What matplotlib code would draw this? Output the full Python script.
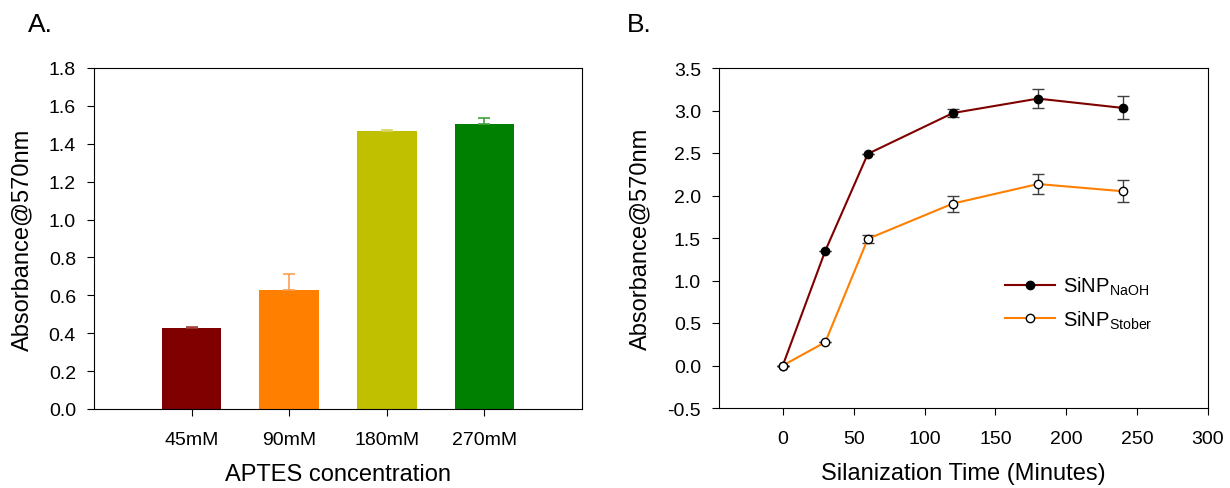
import matplotlib.pyplot as plt
from matplotlib.lines import Line2D
import numpy as np

plt.rcParams['font.family'] = ['Liberation Sans', 'DejaVu Sans']

# panel A data
conc = ['45mM', '90mM', '180mM', '270mM']
absorb = [0.43, 0.63, 1.47, 1.505]
absorb_err = [0.003, 0.08, 0.005, 0.03]
bar_colors = ['#800000', '#ff8000', '#c0c000', '#008000']
err_colors = ['#a04040', '#ffa050', '#d8d860', '#40a040']

# panel B data
time_min = [0, 30, 60, 120, 180, 240]
naoh = [0.0, 1.35, 2.49, 2.97, 3.14, 3.03]
naoh_err = [0.0, 0.0, 0.0, 0.05, 0.11, 0.135]
stober = [0.0, 0.275, 1.49, 1.905, 2.135, 2.05]
stober_err = [0.0, 0.0, 0.05, 0.095, 0.12, 0.13]

tick_fs = 14
label_fs = 17
W, H = 1230, 489

fig = plt.figure(figsize=(12.3, 4.89), dpi=100)

# ---- A ----
ax1 = fig.add_axes([94/W, 1-410/H, (582-94)/W, (410-69)/H])
x = np.arange(len(conc))
ax1.bar(x, absorb, width=0.61, color=bar_colors, zorder=2)
for i in range(len(conc)):
    ax1.errorbar(x[i], absorb[i], yerr=[[0], [absorb_err[i]]], fmt='none',
                 ecolor=err_colors[i], capsize=4, elinewidth=1.2, capthick=1.2, zorder=3)
ax1.set_xlim(-1, 4)
ax1.set_ylim(0, 1.8)
ax1.set_yticks(np.arange(0, 1.81, 0.2))
ax1.set_yticklabels(['%.1f' % v for v in np.arange(0, 1.81, 0.2)])
ax1.set_xticks(x)
ax1.set_xticklabels(conc)
ax1.set_xlabel('APTES concentration', fontsize=label_fs, va='center')
ax1.set_ylabel('Absorbance@570nm', fontsize=label_fs, va='center')
ax1.xaxis.set_label_coords(0.5, (410-475)/341)
ax1.yaxis.set_label_coords((22-94)/488, 0.5)
ax1.tick_params(labelsize=tick_fs, direction='out', length=5)
ax1.tick_params(axis='x', pad=11)
ax1.tick_params(axis='y', pad=8)
fig.text(40/W, 1-25/H, 'A.', fontsize=19, va='center', ha='center')

# ---- B ----
ax2 = fig.add_axes([719/W, 1-409/H, (1208-719)/W, (409-69)/H])
ax2.errorbar(time_min, naoh, yerr=naoh_err, color='#800000', ecolor='#404040',
             marker='o', markersize=6, markerfacecolor='black', markeredgecolor='black',
             capsize=4, elinewidth=1, capthick=1, lw=1.5)
ax2.errorbar(time_min, stober, yerr=stober_err, color='#ff8000', ecolor='#404040',
             marker='o', markersize=6, markerfacecolor='white', markeredgecolor='black',
             capsize=4, elinewidth=1, capthick=1, lw=1.5)
ax2.set_xlim(-45, 300)
ax2.set_ylim(-0.5, 3.5)
ax2.set_xticks([0, 50, 100, 150, 200, 250, 300])
ax2.set_yticks(np.arange(-0.5, 3.51, 0.5))
ax2.set_yticklabels(['%.1f' % v for v in np.arange(-0.5, 3.51, 0.5)])
ax2.set_xlabel('Silanization Time (Minutes)', fontsize=label_fs, va='center')
ax2.set_ylabel('Absorbance@570nm', fontsize=label_fs, va='center')
ax2.xaxis.set_label_coords(0.5, (409-474)/340)
ax2.yaxis.set_label_coords((640-719)/489, 0.5)
ax2.tick_params(labelsize=tick_fs, direction='out', length=5)
ax2.tick_params(axis='x', pad=11)
ax2.tick_params(axis='y', pad=8)

handles = [
    Line2D([], [], color='#800000', lw=1.5, marker='o', markersize=6,
           markerfacecolor='black', markeredgecolor='black'),
    Line2D([], [], color='#ff8000', lw=1.5, marker='o', markersize=6,
           markerfacecolor='white', markeredgecolor='black'),
]
ax2.legend(handles, ['SiNP$_{\\mathregular{NaOH}}$', 'SiNP$_{\\mathregular{Stober}}$'],
           loc='upper left', bbox_to_anchor=(995/W, 1-266/H),
           bbox_transform=fig.transFigure, frameon=False, fontsize=14.5,
           handlelength=2.5, handletextpad=0.4, labelspacing=0.55, borderpad=0)
fig.text(639/W, 1-25/H, 'B.', fontsize=19, va='center', ha='center')

fig.savefig('out.png', dpi=100)
